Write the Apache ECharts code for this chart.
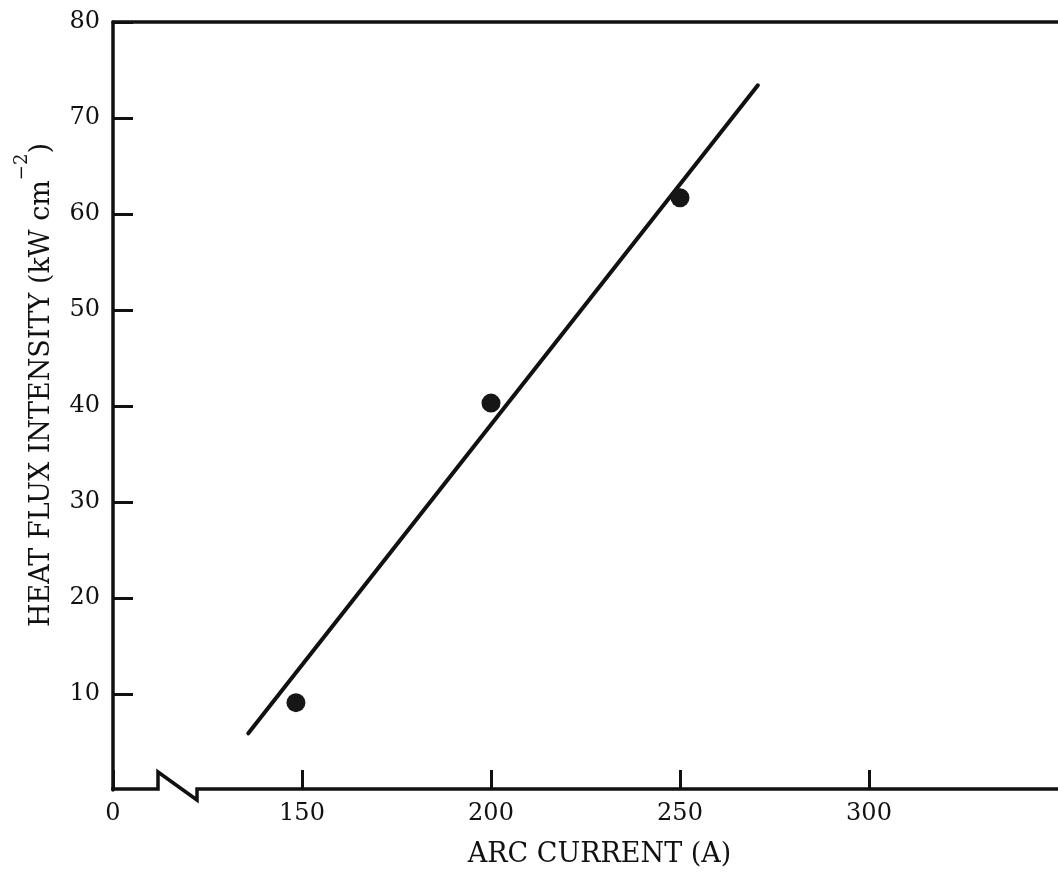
<!DOCTYPE html>
<html>
<head>
<meta charset="utf-8">
<script src="https://cdn.jsdelivr.net/npm/echarts@6/dist/echarts.min.js"></script>
<style>
  html, body { margin: 0; padding: 0; background: #ffffff; }
  #chart { width: 1058px; height: 875px; }
</style>
</head>
<body>
<div id="chart"></div>
<script>
// Arc current axis: the first tick stands for 0 (the scale is broken between 0 and ~140 A)
const xTickValues = [100, 150, 200, 250, 300];
const xTickLabels = ['0', '150', '200', '250', '300'];

// Measured heat flux at three arc currents
const measuredCurrent = [148.4, 200, 250];
const measuredFlux = [9.1, 40.3, 61.7];

// Straight-line fit through the measurements
const fitCurrent = [135.8, 270.6];
const fitFlux = [5.9, 73.4];

const FONT = 'DejaVu Serif';
const INK = '#111111';

const chart = echarts.init(document.getElementById('chart'), null, { renderer: 'canvas' });

const pairs = (xs, ys) => xs.map((x, i) => [x, ys[i]]);

chart.setOption({
  backgroundColor: '#ffffff',
  animation: false,
  grid: { left: 113, right: -5, top: 22, bottom: 85, containLabel: false },
  xAxis: [
    {
      type: 'value',
      position: 'bottom',
      min: 100,
      max: 350,
      interval: 50,
      name: 'ARC CURRENT (A)',
      nameLocation: 'middle',
      nameGap: 51,
      nameTextStyle: { fontFamily: FONT, fontSize: 27, color: INK, padding: [0, 0, 0, 28] },
      axisLine: { show: false },
      axisTick: { show: true, inside: true, length: 20, lineStyle: { color: INK, width: 3 } },
      axisLabel: {
        fontFamily: FONT, fontSize: 24, color: INK, margin: 12,
        showMaxLabel: false,
        formatter: v => {
          const i = xTickValues.indexOf(v);
          return i >= 0 ? xTickLabels[i] : '';
        }
      },
      splitLine: { show: false }
    },
    {
      type: 'value',
      position: 'top',
      min: 100,
      max: 350,
      interval: 50,
      axisLine: { show: true, lineStyle: { color: INK, width: 3.5 } },
      axisTick: { show: false },
      axisLabel: { show: false },
      splitLine: { show: false }
    }
  ],
  yAxis: {
    type: 'value',
    min: 0,
    max: 80,
    interval: 10,
    name: '{m|HEAT FLUX INTENSITY (kW cm}{s|\u22122}{m|)}',
    nameLocation: 'middle',
    nameGap: 58,
    nameRotate: 90,
    nameTextStyle: {
      padding: [0, 0, 0, 42],
      rich: {
        m: { fontFamily: FONT, fontSize: 27, color: INK, lineHeight: 42, verticalAlign: 'bottom' },
        s: { fontFamily: FONT, fontSize: 18, color: INK, lineHeight: 42, verticalAlign: 'top' }
      }
    },
    axisLine: { show: true, lineStyle: { color: INK, width: 3.5 } },
    axisTick: { show: true, inside: true, length: 20, lineStyle: { color: INK, width: 3 } },
    axisLabel: { fontFamily: FONT, fontSize: 24, color: INK, margin: 13, showMinLabel: false },
    splitLine: { show: false }
  },
  series: [
    {
      type: 'line',
      data: pairs(fitCurrent, fitFlux),
      showSymbol: false,
      lineStyle: { color: INK, width: 4, cap: 'round' },
      z: 3
    },
    {
      type: 'scatter',
      data: pairs(measuredCurrent, measuredFlux),
      symbol: 'circle',
      symbolSize: 19,
      itemStyle: { color: '#161616', opacity: 1 },
      z: 4
    }
  ]
});

// Bottom axis line with a "Z" break mark just right of the origin
const origin = chart.convertToPixel({ xAxisIndex: 0, yAxisIndex: 0 }, [100, 0]);
const ox = origin[0], oy = origin[1] - 1;
chart.setOption({
  graphic: [{
    type: 'polyline',
    shape: {
      points: [
        [ox - 1.75, oy], [ox + 45, oy], [ox + 45, oy - 17],
        [ox + 84, oy + 11], [ox + 84, oy], [chart.getWidth() + 10, oy]
      ]
    },
    style: { stroke: INK, lineWidth: 3.5, fill: null, lineJoin: 'miter' },
    z: 10
  }]
});
</script>
</body>
</html>
